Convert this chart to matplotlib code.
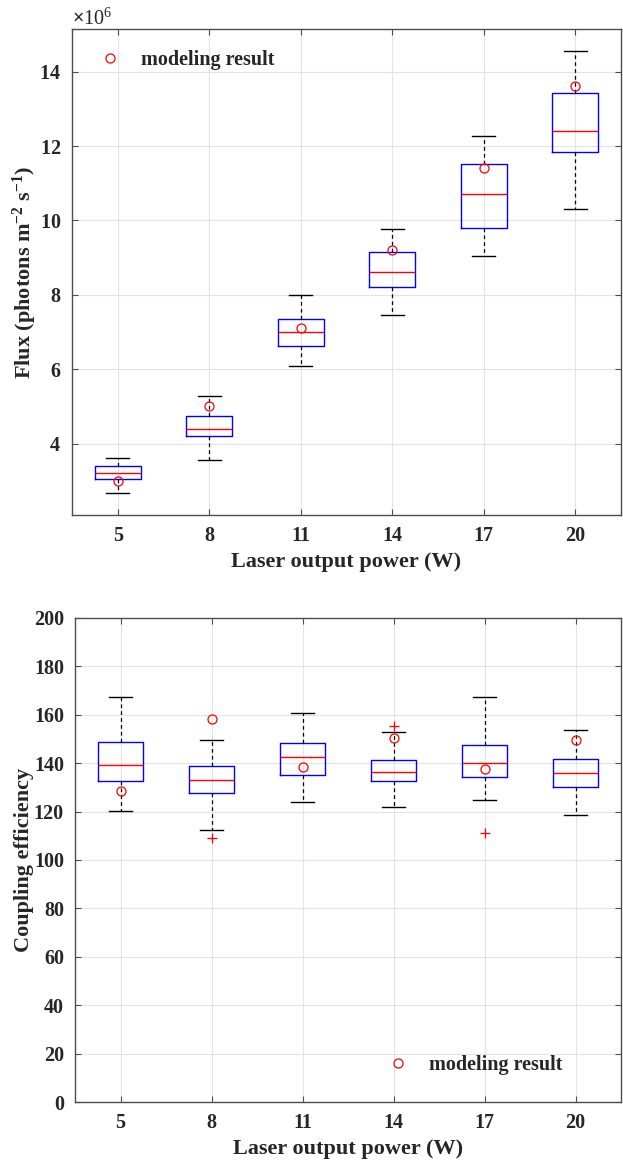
#!/usr/bin/env python3
"""Box plots of flux and coupling efficiency vs laser output power, with modeling results."""

import matplotlib

matplotlib.use("Agg")
import matplotlib.pyplot as plt
from matplotlib.ticker import ScalarFormatter

POWERS = ["5", "8", "11", "14", "17", "20"]

# flux box statistics (photons m^-2 s^-1, x1e6)
FLUX_WHISLO = [2.67, 3.57, 6.08, 7.45, 9.05, 10.30]
FLUX_Q1 = [3.05, 4.21, 6.63, 8.21, 9.81, 11.84]
FLUX_MED = [3.20, 4.40, 7.01, 8.61, 10.72, 12.41]
FLUX_Q3 = [3.39, 4.73, 7.36, 9.16, 11.52, 13.43]
FLUX_WHISHI = [3.62, 5.29, 8.00, 9.76, 12.26, 14.55]
FLUX_MODEL = [3.00, 5.01, 7.11, 9.21, 11.41, 13.62]
FLUX_YTICKS = [4, 6, 8, 10, 12, 14]

# coupling efficiency box statistics
CE_WHISLO = [120.4, 112.3, 124.0, 121.9, 124.8, 118.5]
CE_Q1 = [132.7, 127.6, 135.0, 132.7, 134.2, 130.2]
CE_MED = [139.2, 133.2, 142.7, 136.3, 140.2, 136.0]
CE_Q3 = [148.5, 138.8, 148.1, 141.1, 147.6, 141.6]
CE_WHISHI = [167.2, 149.5, 160.6, 152.8, 167.2, 153.6]
CE_FLIERS = [[], [109.1], [], [155.1], [111.1], []]
CE_MODEL = [128.6, 158.0, 138.2, 150.3, 137.5, 149.6]
CE_YTICKS = [0, 20, 40, 60, 80, 100, 120, 140, 160, 180, 200]

TEXT = "#262626"
SERIF = "Liberation Serif"
TICK_FS = 14.5
LABEL_FS = 16

plt.rcParams.update(
    {
        "font.family": SERIF,
        "font.weight": "bold",
        "font.size": TICK_FS,
        "axes.labelweight": "bold",
        "text.color": TEXT,
        "axes.labelcolor": TEXT,
        "xtick.color": TEXT,
        "ytick.color": TEXT,
        "mathtext.fontset": "custom",
        "mathtext.rm": "Liberation Serif:bold",
        "mathtext.it": "Liberation Serif:italic:bold",
        "mathtext.bf": "Liberation Serif:bold",
    }
)


class FixedPow(ScalarFormatter):
    def _set_order_of_magnitude(self):
        self.orderOfMagnitude = 6


def make_stats(lo, q1, med, q3, hi, fliers=None, scale=1.0):
    stats = []
    for i in range(len(med)):
        stats.append(
            {
                "whislo": lo[i] * scale,
                "q1": q1[i] * scale,
                "med": med[i] * scale,
                "q3": q3[i] * scale,
                "whishi": hi[i] * scale,
                "fliers": [f * scale for f in fliers[i]] if fliers else [],
            }
        )
    return stats


def draw_boxes(ax, stats, model, scale=1.0):
    pos = list(range(1, len(stats) + 1))
    ax.bxp(
        stats,
        positions=pos,
        widths=0.5,
        showfliers=True,
        boxprops=dict(color="#0000ff", linewidth=1.0),
        medianprops=dict(color="#ff0000", linewidth=1.0),
        whiskerprops=dict(color="black", linestyle=(0, (3, 2.5)), linewidth=0.9),
        capprops=dict(color="black", linewidth=1.0),
        flierprops=dict(marker="+", markeredgecolor="#ff0000", markersize=7,
                        markeredgewidth=0.9, linestyle="none"),
        manage_ticks=False,
    )
    ax.plot(pos, [m * scale for m in model], "o", markerfacecolor="none",
            markeredgecolor="#ff0000", markersize=6.5, markeredgewidth=0.9,
            linestyle="none", label="modeling result", zorder=4)
    ax.set_xticks(pos)
    ax.set_xticklabels(POWERS)
    ax.set_xlim(0.5, len(pos) + 0.5)


def format_axis(ax):
    ax.grid(True, color="#e3e3e3", linewidth=0.8)
    ax.set_axisbelow(True)
    for spine in ax.spines.values():
        spine.set_color("#4d4d4d")
        spine.set_linewidth(1.0)
    ax.tick_params(direction="in", length=4, width=0.8, top=True, right=True,
                   colors="#4d4d4d", labelcolor=TEXT, labelsize=TICK_FS, pad=8)
    for lab in ax.get_xticklabels() + ax.get_yticklabels():
        lab.set_fontweight("bold")


def add_legend(ax, anchor, loc):
    ax.legend(loc=loc, bbox_to_anchor=anchor, frameon=False, borderaxespad=0,
              borderpad=0, handlelength=1.0, handletextpad=1.05,
              fontsize=TICK_FS)


fig = plt.figure(figsize=(6.23, 11.63), dpi=100)
ax1 = fig.add_axes([0.1156, 0.5572, 0.8812, 0.4179])
ax2 = fig.add_axes([0.1204, 0.0522, 0.8764, 0.4167])

# top: flux
draw_boxes(ax1, make_stats(FLUX_WHISLO, FLUX_Q1, FLUX_MED, FLUX_Q3, FLUX_WHISHI,
                           scale=1e6), FLUX_MODEL, scale=1e6)
ax1.set_ylim(2.08e6, 15.15e6)
ax1.set_yticks([t * 1e6 for t in FLUX_YTICKS])
fmt = FixedPow(useMathText=True)
ax1.yaxis.set_major_formatter(fmt)
format_axis(ax1)
ax1.yaxis.get_offset_text().set_fontsize(TICK_FS)
ax1.yaxis.get_offset_text().set_fontweight("normal")
ax1.set_xlabel("Laser output power (W)", fontsize=LABEL_FS, labelpad=4)
ax1.set_ylabel(r"Flux (photons m$^{-2}$ s$^{-1}$)", fontsize=LABEL_FS, labelpad=0)
add_legend(ax1, (0.051, 0.956), "upper left")

# bottom: coupling efficiency
draw_boxes(ax2, make_stats(CE_WHISLO, CE_Q1, CE_MED, CE_Q3, CE_WHISHI, CE_FLIERS),
           CE_MODEL)
ax2.set_ylim(0, 200)
ax2.set_yticks(CE_YTICKS)
format_axis(ax2)
ax2.set_xlabel("Laser output power (W)", fontsize=LABEL_FS, labelpad=4)
ax2.set_ylabel("Coupling efficiency", fontsize=LABEL_FS, labelpad=0)
add_legend(ax2, (0.573, 0.077), "center left")

fig.savefig("out.png", dpi=100, facecolor="white")
